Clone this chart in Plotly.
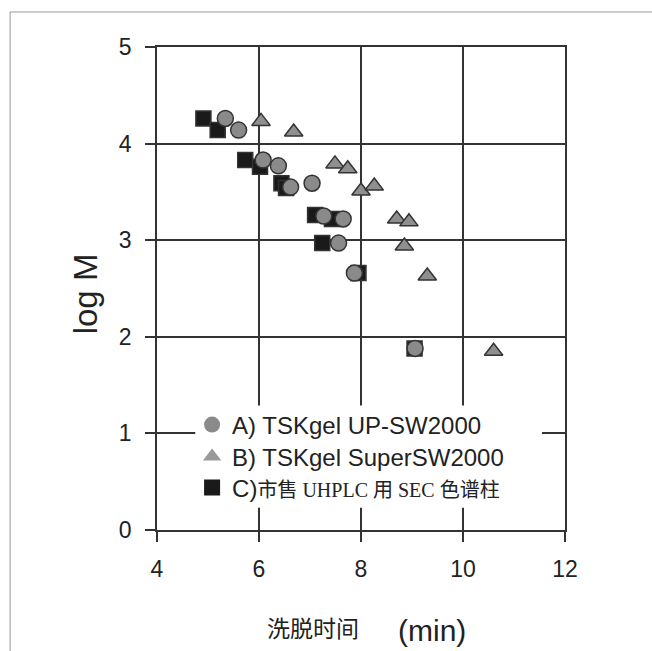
import plotly.graph_objects as go

# elution time (min) vs log M
x_a = [5.34, 5.60, 6.08, 6.38, 6.62, 7.04, 7.27, 7.65, 7.56, 7.87, 9.06]
y_a = [4.26, 4.14, 3.83, 3.77, 3.55, 3.59, 3.25, 3.22, 2.97, 2.66, 1.88]

x_b = [6.04, 6.68, 7.49, 7.74, 8.00, 8.26, 8.70, 8.94, 8.85, 9.30, 10.60]
y_b = [4.23, 4.12, 3.79, 3.74, 3.51, 3.56, 3.22, 3.19, 2.94, 2.63, 1.85]

x_c = [4.91, 5.19, 5.73, 6.02, 6.44, 6.53, 7.10, 7.43, 7.24, 7.95, 9.05]
y_c = [4.26, 4.14, 3.83, 3.76, 3.59, 3.54, 3.26, 3.22, 2.97, 2.66, 1.88]

names = [
    "A) TSKgel UP-SW2000",
    "B) TSKgel SuperSW2000",
    "C)<span style='font-family:Liberation Serif, Noto Sans CJK SC;font-size:20px'>市售 UHPLC 用 SEC 色谱柱</span>",
]

x_ticks = [4, 6, 8, 10, 12]
y_ticks = [0, 1, 2, 3, 4, 5]

edge = dict(color="#333333", width=1.5)
sans = "Liberation Sans, Arial"

fig = go.Figure()

# plotted points (squares underneath, as in the original)
fig.add_trace(go.Scatter(x=x_c, y=y_c, mode="markers", showlegend=False,
                         marker=dict(symbol="square", size=15, color="#1a1a1a", line=edge)))
fig.add_trace(go.Scatter(x=x_a, y=y_a, mode="markers", showlegend=False,
                         marker=dict(symbol="circle", size=16, color="#8a8a8a", line=edge)))
fig.add_trace(go.Scatter(x=x_b, y=y_b, mode="markers", showlegend=False,
                         marker=dict(symbol="triangle-up", size=16, color="#8f8f8f", line=edge)))

# legend entries only (no outline on the legend symbols), one legend per row
legend_marks = [("circle", "#8a8a8a"), ("triangle-up", "#999999"), ("square", "#1a1a1a")]
legend_ids = ["legend", "legend2", "legend3"]
for i, (sym, col) in enumerate(legend_marks):
    fig.add_trace(go.Scatter(x=[None], y=[None], mode="markers", name=names[i],
                             legend=legend_ids[i],
                             marker=dict(symbol=sym, size=17, color=col, line=dict(width=0))))

axis_style = dict(
    showgrid=True, gridcolor="#333333", gridwidth=1.5,
    showline=True, linecolor="#333333", linewidth=1.5, mirror=True,
    ticks="outside", ticklen=10, tickwidth=1.5, tickcolor="#333333",
    zeroline=False,
    tickfont=dict(family=sans, size=23, color="#222222"),
)

fig.update_xaxes(range=[4, 12], tickvals=x_ticks, ticklabelstandoff=8, **axis_style)
fig.update_yaxes(range=[0, 5], tickvals=y_ticks, ticklabelstandoff=9, **axis_style)

legend_style = dict(x=0.086, xanchor="left", yanchor="middle", itemsizing="trace",
                    bgcolor="rgba(0,0,0,0)", borderwidth=0,
                    font=dict(family=sans, size=24, color="#222222"))
row_y = [0.2174, 0.1511, 0.0870]

fig.update_layout(
    width=652, height=651,
    margin=dict(l=157, r=87, t=47, b=121),
    plot_bgcolor="white", paper_bgcolor="white",
    legend=dict(y=row_y[0], **legend_style),
    legend2=dict(y=row_y[1], **legend_style),
    legend3=dict(y=row_y[2], **legend_style),
    shapes=[
        # white box behind the legend, hides the grid there
        dict(type="rect", xref="x", yref="y", x0=4.75, x1=11.55, y0=0.23, y1=1.29,
             fillcolor="white", line=dict(width=0), layer="between"),
        # thin outer frame of the picture (top and left)
        dict(type="line", xref="paper", yref="paper", x0=-0.360, x1=1.25, y0=1.0725, y1=1.0725,
             line=dict(color="#999999", width=1)),
        dict(type="line", xref="paper", yref="paper", x0=-0.360, x1=-0.360, y0=1.0725, y1=-0.27,
             line=dict(color="#999999", width=1)),
    ],
    annotations=[
        dict(text="log M", xref="paper", yref="paper", x=-0.1765, y=0.49, showarrow=False,
             xanchor="center", yanchor="middle", textangle=-90,
             font=dict(family=sans, size=33, color="#222222")),
        dict(text="洗脱时间", xref="paper", yref="paper", x=0.382, y=-0.201, showarrow=False,
             xanchor="center", yanchor="middle",
             font=dict(family="Noto Sans CJK SC", size=23, color="#222222")),
        dict(text="(min)", xref="paper", yref="paper", x=0.674, y=-0.209, showarrow=False,
             xanchor="center", yanchor="middle",
             font=dict(family=sans, size=30, color="#222222")),
    ],
)

# page without the default body margin, so the figure sits at the window corner
fig.write_html("out.html", config={"displayModeBar": False},
               post_script="document.body.style.margin='0';")
